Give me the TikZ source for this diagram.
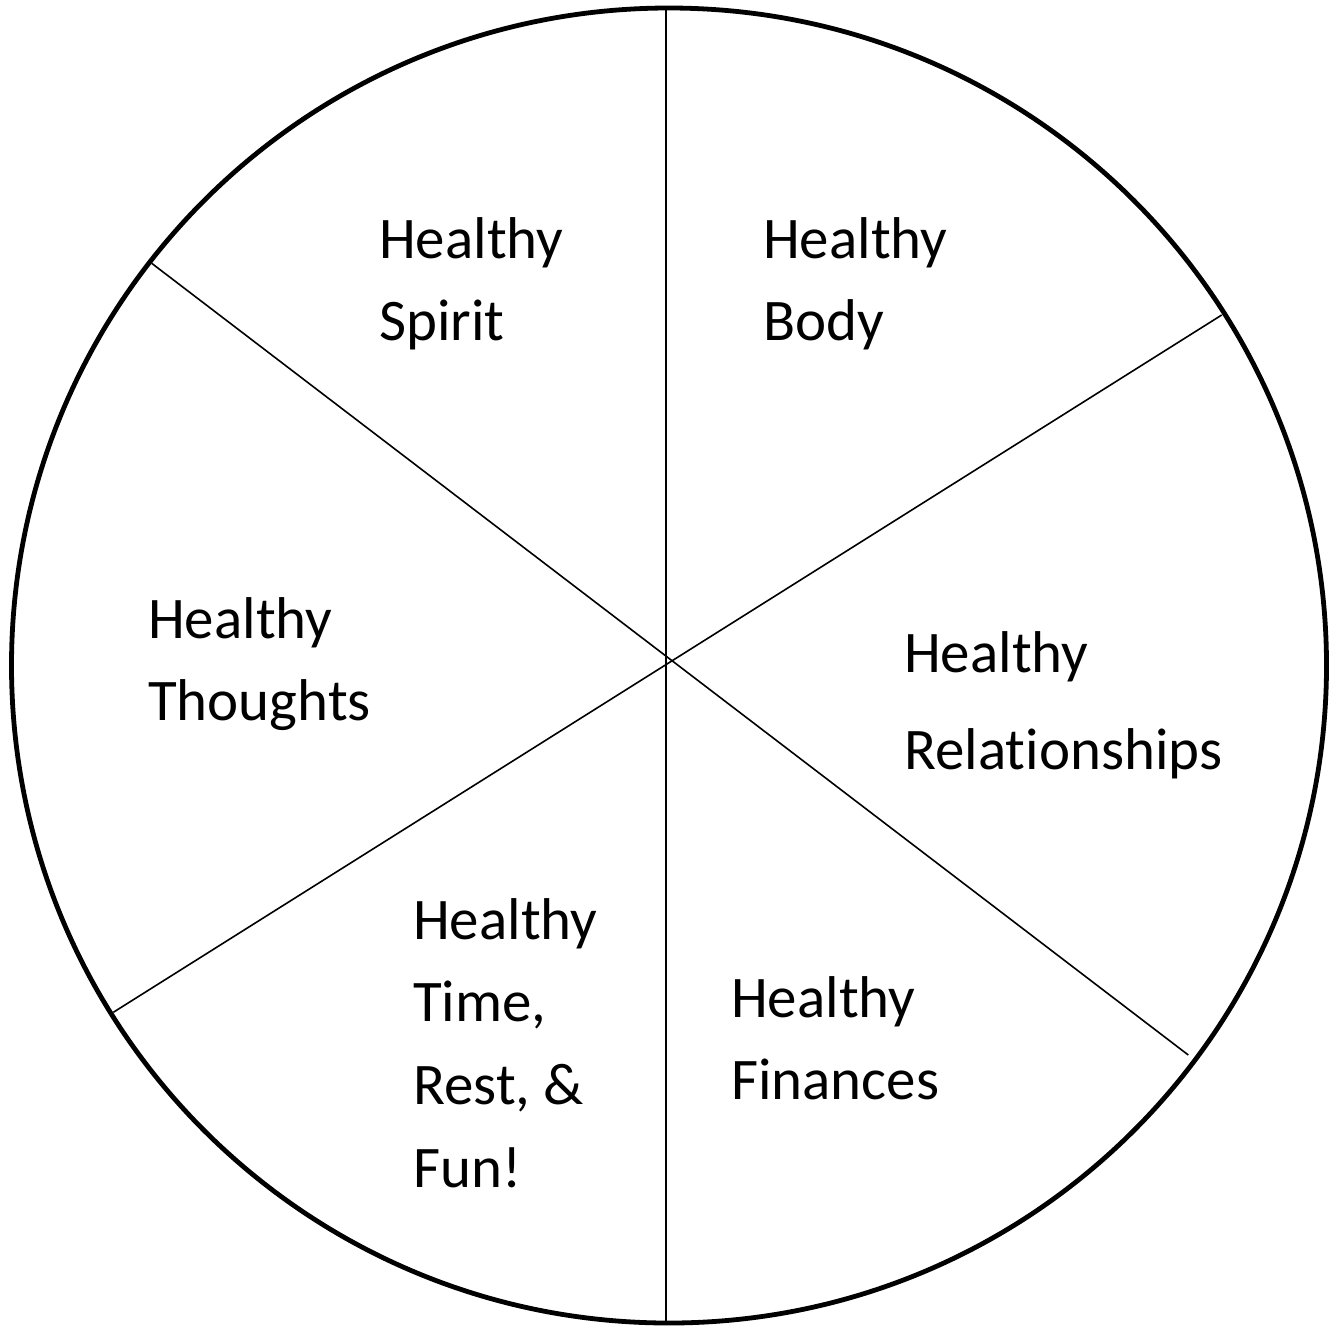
\documentclass[tikz,border=0pt]{standalone}
\usepackage{fontspec}
\setmainfont{Carlito}[Ligatures=NoCommon]
\begin{document}
\begin{tikzpicture}[x=0.75pt,y=-0.75pt,
  rim/.style={line width=3.6pt},
  spoke/.style={line width=1.2pt},
  label/.style={anchor=base west,inner sep=0pt,align=left,
    font=\fontsize{44.2}{61.5}\selectfont}]
\useasboundingbox (0,0) rectangle (1333,1325);
% outer wheel
\draw[rim] (669,665.5) circle[radius=657.5*0.75pt];
% spokes dividing the wheel into six parts
\coordinate (vt) at (666,10);
\coordinate (vb) at (666,1321);
\coordinate (d1a) at (151.7,263.3);
\coordinate (d1b) at (1188.3,1055);
\coordinate (d2a) at (1221.7,315);
\coordinate (d2b) at (113.3,1012.3);
\draw[spoke] (vt) -- (vb);
\draw[spoke] (d1a) -- (d1b);
\draw[spoke] (d2a) -- (d2b);
% area labels (placed at the baseline of their last line)
\node[label] (spirit) at (379,340) {Healthy\\Spirit};
\node[label] (body) at (763,340) {Healthy\\Body};
\node[label] (thoughts) at (148,720) {Healthy\\Thoughts};
\node[label,font=\fontsize{44.2}{72.75}\selectfont] (rel) at (904,769) {Healthy\\Relationships};
\node[label,font=\fontsize{44.2}{62}\selectfont] (time) at (413,1187) {Healthy\\Time,\\Rest, \&\\Fun!};
\node[label] (fin) at (731,1099) {Healthy\\Finances};
\end{tikzpicture}
\end{document}
